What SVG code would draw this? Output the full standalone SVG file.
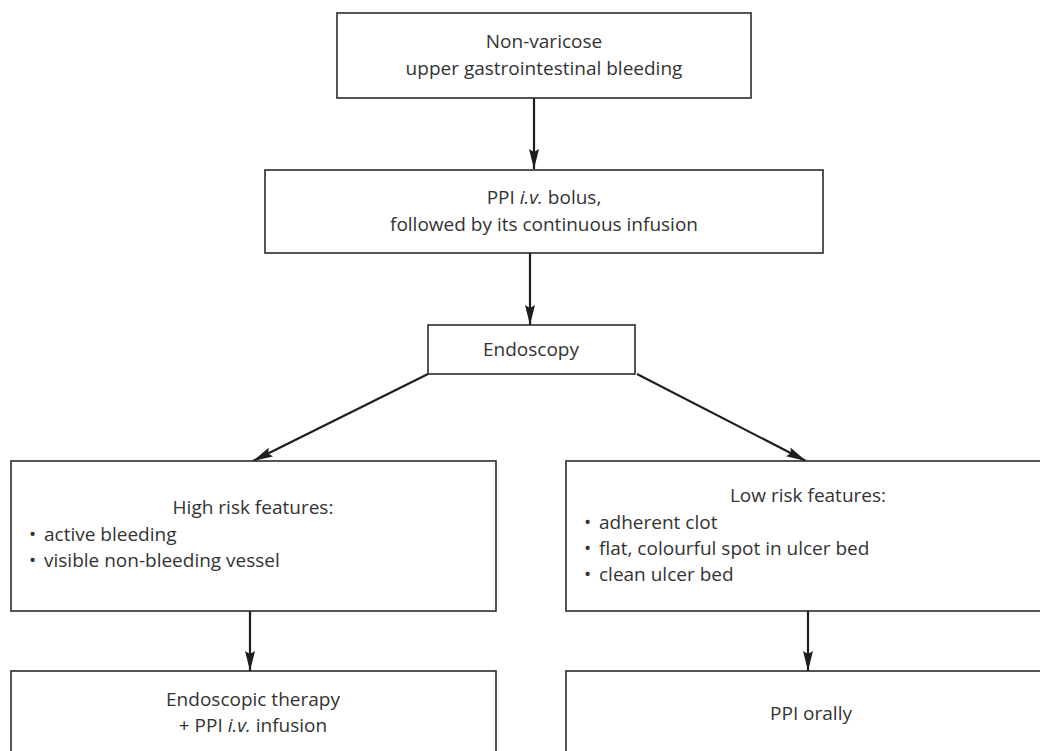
<svg xmlns="http://www.w3.org/2000/svg" width="1040" height="751" viewBox="0 0 1040 751">
<defs>
<style>
.box{fill:#fff;stroke:#2b2b2b;stroke-width:1.6}
.t{font-family:"Open Sans","Liberation Sans",sans-serif;font-size:19px;fill:#333}
.c{text-anchor:middle}
.edge{stroke:#1e1e1e;stroke-width:2.2;fill:none}
</style>
<marker id="arr" viewBox="0 0 20 10" refX="20" refY="5" markerWidth="20" markerHeight="10" markerUnits="userSpaceOnUse" orient="auto">
<path d="M0,0 L20,5 L0,10 L3,5 Z" fill="#1e1e1e"/>
</marker>
</defs>
<rect width="1040" height="751" fill="#fff"/>
<g id="connectors">
<line class="edge" x1="534" y1="98" x2="534" y2="169" marker-end="url(#arr)"/>
<line class="edge" x1="530" y1="253" x2="530" y2="325" marker-end="url(#arr)"/>
<line class="edge" x1="428" y1="374" x2="253" y2="461" marker-end="url(#arr)"/>
<line class="edge" x1="637" y1="374" x2="806" y2="461" marker-end="url(#arr)"/>
<line class="edge" x1="250" y1="611" x2="250" y2="671" marker-end="url(#arr)"/>
<line class="edge" x1="808" y1="611" x2="808" y2="671" marker-end="url(#arr)"/>
</g>
<g id="n1">
<rect class="box" x="337" y="13" width="414" height="85"/>
<text class="t c" x="544" y="48">Non-varicose</text>
<text class="t c" x="544" y="75">upper gastrointestinal bleeding</text>
</g>
<g id="n2">
<rect class="box" x="265" y="170" width="558" height="83"/>
<text class="t c" x="544" y="204">PPI <tspan font-style="italic">i.v.</tspan> bolus,</text>
<text class="t c" x="544" y="231">followed by its continuous infusion</text>
</g>
<g id="n3">
<rect class="box" x="428" y="325" width="207" height="49"/>
<text class="t c" x="531" y="356">Endoscopy</text>
</g>
<g id="n4">
<rect class="box" x="11" y="461" width="485" height="150"/>
<text class="t c" x="253" y="514">High risk features:</text>
<text class="t" x="29" y="541">•</text>
<text class="t" x="44" y="541">active bleeding</text>
<text class="t" x="29" y="567">•</text>
<text class="t" x="44" y="567">visible non-bleeding vessel</text>
</g>
<g id="n5">
<rect class="box" x="566" y="461" width="490" height="150"/>
<text class="t c" x="808" y="502">Low risk features:</text>
<text class="t" x="584" y="529">•</text>
<text class="t" x="599" y="529">adherent clot</text>
<text class="t" x="584" y="555">•</text>
<text class="t" x="599" y="555">flat, colourful spot in ulcer bed</text>
<text class="t" x="584" y="581">•</text>
<text class="t" x="599" y="581">clean ulcer bed</text>
</g>
<g id="n6">
<rect class="box" x="11" y="671" width="485" height="100"/>
<text class="t c" x="253" y="706">Endoscopic therapy</text>
<text class="t c" x="253" y="732">+ PPI <tspan font-style="italic">i.v.</tspan> infusion</text>
</g>
<g id="n7">
<rect class="box" x="566" y="671" width="490" height="100"/>
<text class="t c" x="811" y="720">PPI orally</text>
</g>
</svg>
